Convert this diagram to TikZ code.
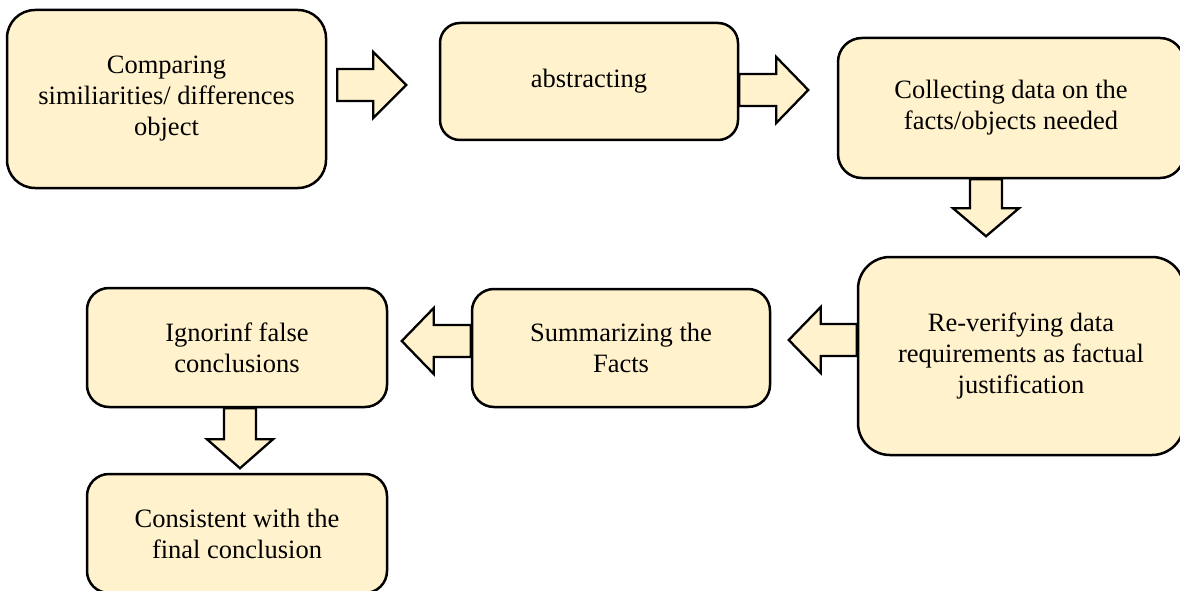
\documentclass[tikz,border=0pt]{standalone}
\usepackage{fontspec}
\setmainfont{Liberation Serif}
\usetikzlibrary{calc}
\definecolor{boxfill}{HTML}{FFF2CC}
\begin{document}
\begin{tikzpicture}
        [x=1pt, y=1pt,
        every node/.style={font=\fontsize{26.5}{31}\selectfont, align=center},
        stepbox/.style={rectangle, rounded corners=#1, draw=black, line width=2.5pt,
          fill=boxfill, inner sep=0pt},
        stepbox/.default=22pt,
        arrowbody/.style={draw=black, line width=2.3pt, fill=boxfill, line join=miter},
        pics/blockarrow/.style 2 args={code={
          \draw[arrowbody] (0,-16) -- (#1,-16) -- (#1,-33) -- ({#1+#2},0)
            -- (#1,33) -- (#1,16) -- (0,16) -- cycle;}},
        ]
        \useasboundingbox (0,0) rectangle (1180,-591);
        % top row
        \node[stepbox=28pt, minimum width=319pt, minimum height=178pt] (comp) at (166.5,-99)
          {Comparing\\similiarities/ differences\\object};
        \node[stepbox=20pt, minimum width=298pt, minimum height=117pt] (abs) at (589,-81.5)
          {abstracting};
        \node[stepbox=24pt, minimum width=346pt, minimum height=140pt] (coll) at (1011,-108)
          {Collecting data on the\\facts/objects needed};
        % middle row
        \node[stepbox=32pt, minimum width=326pt, minimum height=198pt] (rever) at (1021,-356)
          {Re-verifying data\\requirements as factual\\justification};
        \node[stepbox, minimum width=298pt, minimum height=118pt] (summ) at (621,-348)
          {Summarizing the\\Facts};
        \node[stepbox, minimum width=300pt, minimum height=119pt] (ignore) at (237,-347.5)
          {Ignorinf false\\conclusions};
        % last one
        \node[stepbox, minimum width=300pt, minimum height=119pt] (consist) at (237,-533.5)
          {Consistent with the\\final conclusion};
        % block arrows
        \pic at ($(comp.east)+(10,14)$) {blockarrow={36}{33}};
        \pic at ($(abs.east)+(0,-8.5)$) {blockarrow={37}{32}};
        \pic[rotate=-90] at ($(coll.south)+(-25,0)$) {blockarrow={29}{28}};
        \pic[rotate=180] at ($(rever.west)+(0,16)$) {blockarrow={36}{32}};
        \pic[rotate=180] at ($(summ.west)+(0,7)$) {blockarrow={37}{32}};
        \pic[rotate=-90] at ($(ignore.south)+(3,0)$) {blockarrow={31}{29}};
\end{tikzpicture}
\end{document}
